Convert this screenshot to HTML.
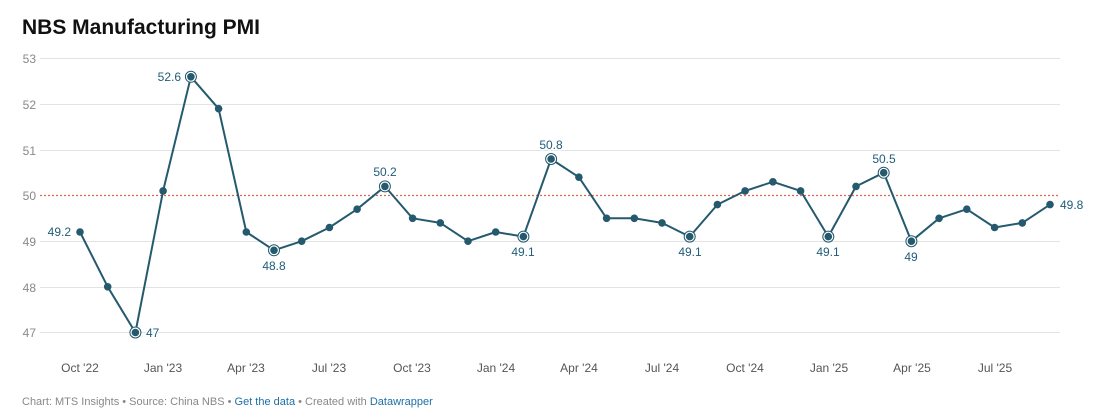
<!DOCTYPE html>
<html><head><meta charset="utf-8"><style>
body{margin:0;background:#fff;width:1102px;height:415px;overflow:hidden;font-family:"Liberation Sans",sans-serif}
</style></head><body>
<svg width="1102" height="415" xmlns="http://www.w3.org/2000/svg" font-family="Liberation Sans, sans-serif">
<text x="22" y="34" font-size="21" font-weight="bold" fill="#111">NBS Manufacturing PMI</text>
<g stroke="#e3e3e3" stroke-width="1">
<line x1="40" x2="1060" y1="58.5" y2="58.5"/><line x1="40" x2="1060" y1="104.5" y2="104.5"/>
<line x1="40" x2="1060" y1="150.5" y2="150.5"/><line x1="40" x2="1060" y1="241.5" y2="241.5"/>
<line x1="40" x2="1060" y1="287.5" y2="287.5"/><line x1="40" x2="1060" y1="332.5" y2="332.5"/>
</g>
<line x1="40" x2="1060" y1="195.5" y2="195.5" stroke="#d9684f" stroke-width="1.3" stroke-dasharray="2,2"/>
<g font-size="12" fill="#888" text-anchor="end">
<text x="36" y="63">53</text><text x="36" y="109">52</text><text x="36" y="155">51</text>
<text x="36" y="200">50</text><text x="36" y="246">49</text><text x="36" y="292">48</text><text x="36" y="337">47</text>
</g>
<g font-size="12" fill="#555" text-anchor="middle">
<text x="80" y="372">Oct '22</text><text x="163" y="372">Jan '23</text><text x="246" y="372">Apr '23</text>
<text x="329" y="372">Jul '23</text><text x="412" y="372">Oct '23</text><text x="496" y="372">Jan '24</text>
<text x="579" y="372">Apr '24</text><text x="662" y="372">Jul '24</text><text x="745" y="372">Oct '24</text>
<text x="829" y="372">Jan '25</text><text x="912" y="372">Apr '25</text><text x="995" y="372">Jul '25</text>
</g>
<polyline fill="none" stroke="#255a6e" stroke-width="2" stroke-linejoin="round" points="80,232.0 107.7,286.8 135.4,332.5 163.1,190.9 190.9,76.8 218.6,108.7 246.3,232.0 274.0,250.3 301.7,241.2 329.4,227.5 357.1,209.2 384.9,186.4 412.6,218.3 440.3,222.9 468.0,241.2 495.7,232.0 523.4,236.6 551.1,159.0 578.9,177.2 606.6,218.3 634.3,218.3 662.0,222.9 689.7,236.6 717.4,204.6 745.1,190.9 772.9,181.8 800.6,190.9 828.3,236.6 856.0,186.4 883.7,172.7 911.4,241.2 939.1,218.3 966.8,209.2 994.6,227.5 1022.3,222.9 1050.0,204.6"/>
<g fill="#fff" stroke="#255a6e" stroke-width="1">
<circle cx="135.4" cy="332.5" r="5.5"/><circle cx="190.9" cy="76.8" r="5.5"/><circle cx="274.0" cy="250.3" r="5.5"/>
<circle cx="384.9" cy="186.4" r="5.5"/><circle cx="523.4" cy="236.6" r="5.5"/><circle cx="551.1" cy="159.0" r="5.5"/>
<circle cx="689.7" cy="236.6" r="5.5"/><circle cx="828.3" cy="236.6" r="5.5"/><circle cx="883.7" cy="172.7" r="5.5"/>
<circle cx="911.4" cy="241.2" r="5.5"/>
</g>
<g fill="#255a6e">
<circle cx="80" cy="232.0" r="3.8"/><circle cx="107.7" cy="286.8" r="3.8"/><circle cx="135.4" cy="332.5" r="3.8"/>
<circle cx="163.1" cy="190.9" r="3.8"/><circle cx="190.9" cy="76.8" r="3.8"/><circle cx="218.6" cy="108.7" r="3.8"/>
<circle cx="246.3" cy="232.0" r="3.8"/><circle cx="274.0" cy="250.3" r="3.8"/><circle cx="301.7" cy="241.2" r="3.8"/>
<circle cx="329.4" cy="227.5" r="3.8"/><circle cx="357.1" cy="209.2" r="3.8"/><circle cx="384.9" cy="186.4" r="3.8"/>
<circle cx="412.6" cy="218.3" r="3.8"/><circle cx="440.3" cy="222.9" r="3.8"/><circle cx="468.0" cy="241.2" r="3.8"/>
<circle cx="495.7" cy="232.0" r="3.8"/><circle cx="523.4" cy="236.6" r="3.8"/><circle cx="551.1" cy="159.0" r="3.8"/>
<circle cx="578.9" cy="177.2" r="3.8"/><circle cx="606.6" cy="218.3" r="3.8"/><circle cx="634.3" cy="218.3" r="3.8"/>
<circle cx="662.0" cy="222.9" r="3.8"/><circle cx="689.7" cy="236.6" r="3.8"/><circle cx="717.4" cy="204.6" r="3.8"/>
<circle cx="745.1" cy="190.9" r="3.8"/><circle cx="772.9" cy="181.8" r="3.8"/><circle cx="800.6" cy="190.9" r="3.8"/>
<circle cx="828.3" cy="236.6" r="3.8"/><circle cx="856.0" cy="186.4" r="3.8"/><circle cx="883.7" cy="172.7" r="3.8"/>
<circle cx="911.4" cy="241.2" r="3.8"/><circle cx="939.1" cy="218.3" r="3.8"/><circle cx="966.8" cy="209.2" r="3.8"/>
<circle cx="994.6" cy="227.5" r="3.8"/><circle cx="1022.3" cy="222.9" r="3.8"/><circle cx="1050.0" cy="204.6" r="3.8"/>
</g>
<g font-size="12" fill="#1f5d78" stroke="#fff" stroke-width="3" paint-order="stroke">
<text x="71" y="236" text-anchor="end">49.2</text>
<text x="146" y="337">47</text>
<text x="181" y="81" text-anchor="end">52.6</text>
<text x="274" y="270" text-anchor="middle">48.8</text>
<text x="385" y="176" text-anchor="middle">50.2</text>
<text x="523" y="256" text-anchor="middle">49.1</text>
<text x="551" y="149" text-anchor="middle">50.8</text>
<text x="690" y="256" text-anchor="middle">49.1</text>
<text x="828" y="256" text-anchor="middle">49.1</text>
<text x="884" y="163" text-anchor="middle">50.5</text>
<text x="911" y="261" text-anchor="middle">49</text>
<text x="1060" y="209">49.8</text>
</g>
<text x="22" y="405" font-size="11" fill="#888">Chart: MTS Insights • Source: China NBS • <tspan fill="#1d6fa5">Get the data</tspan> • Created with <tspan fill="#1d6fa5">Datawrapper</tspan></text>
</svg>
</body></html>
